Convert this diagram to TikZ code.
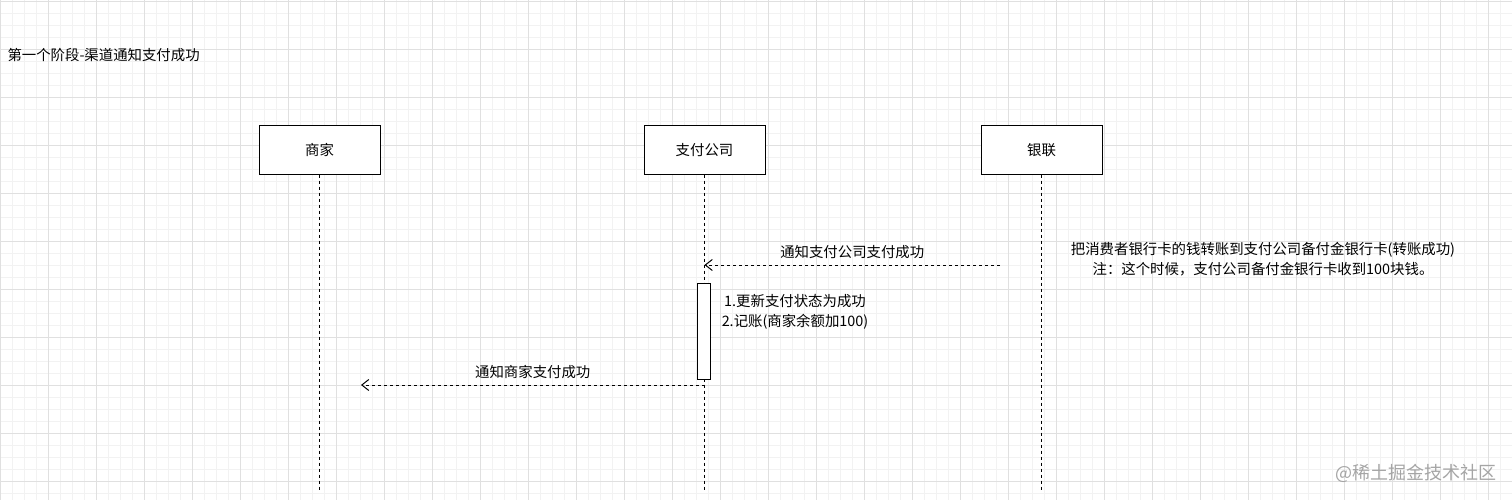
\documentclass[tikz,border=0pt]{standalone}
\usepackage{fontspec}
\setmainfont{Noto Sans CJK SC}
\usepackage{xcolor}
\usetikzlibrary{arrows.meta,positioning,calc}
\definecolor{gridminor}{RGB}{242,242,242}
\definecolor{gridmajor}{RGB}{224,224,224}
\definecolor{markgray}{RGB}{165,165,165}

\begin{document}
\begin{tikzpicture}[x=1pt, y=-1pt, line width=1pt,
    every node/.style={font=\fontsize{14.4}{19.5}\selectfont},
    actor/.style={draw, fill=white, minimum width=121, minimum height=48, inner sep=0},
    lifeline/.style={dash pattern=on 3pt off 3pt},
    msg/.style={dash pattern=on 3pt off 3pt, -{Straight Barb[length=7pt,width=11pt]}}]
    % page and grid
    \fill[white] (0,0) rectangle (1512,500);
    \useasboundingbox (0,0) rectangle (1512,500);
    \foreach \gx in {0,12,...,1512} \draw[gridminor, line width=0.6pt] (\gx,0) -- (\gx,500);
    \foreach \gy in {1,13,...,500} \draw[gridminor, line width=0.6pt] (0,\gy) -- (1512,\gy);
    \foreach \gx in {0,48,...,1512} \draw[gridmajor, line width=0.6pt] (\gx,0) -- (\gx,500);
    \foreach \gy in {1,49,...,500} \draw[gridmajor, line width=0.6pt] (0,\gy) -- (1512,\gy);

    \node[anchor=west, inner sep=0] (title) at (7,55) {第一个阶段-渠道通知支付成功};

    % participants
    \node[actor] (merchant) at (319.5,150) {商家};
    \node[actor] (paycorp) at (704.5,150) {支付公司};
    \node[actor] (unionpay) at (1041.5,150) {银联};

    \coordinate (bottom) at (0,490);
    \draw[lifeline] (merchant.south) -- (merchant.south |- bottom);
    \draw[lifeline] (paycorp.south) -- (paycorp.south |- bottom);
    \draw[lifeline] (unionpay.south) -- (unionpay.south |- bottom);

    % unionpay -> paycorp
    \coordinate (bankstart) at (1000,265);
    \draw[msg] (bankstart) -- node[above=2pt] (notifypay) {通知支付公司支付成功} (paycorp.south |- bankstart);

    \node[align=center] (banknote) at (1263,259) {把消费者银行卡的钱转账到支付公司备付金银行卡(转账成功)\\注：这个时候，支付公司备付金银行卡收到100块钱。};

    % activation on paycorp
    \node[draw, fill=white, minimum width=13, minimum height=96, inner sep=0] (act) at (704,331) {};
    \node[align=center] (steps) at (795,312) {1.更新支付状态为成功\\2.记账(商家余额加100)};

    % paycorp -> merchant
    \coordinate (merchantend) at (361,385);
    \draw[msg] (paycorp.south |- merchantend) -- node[above=2pt] (notifymerchant) {通知商家支付成功} (merchantend);

    \node[markgray, font=\fontsize{18}{20}\selectfont] (mark) at (1416,473) {@稀土掘金技术社区};
\end{tikzpicture}
\end{document}
